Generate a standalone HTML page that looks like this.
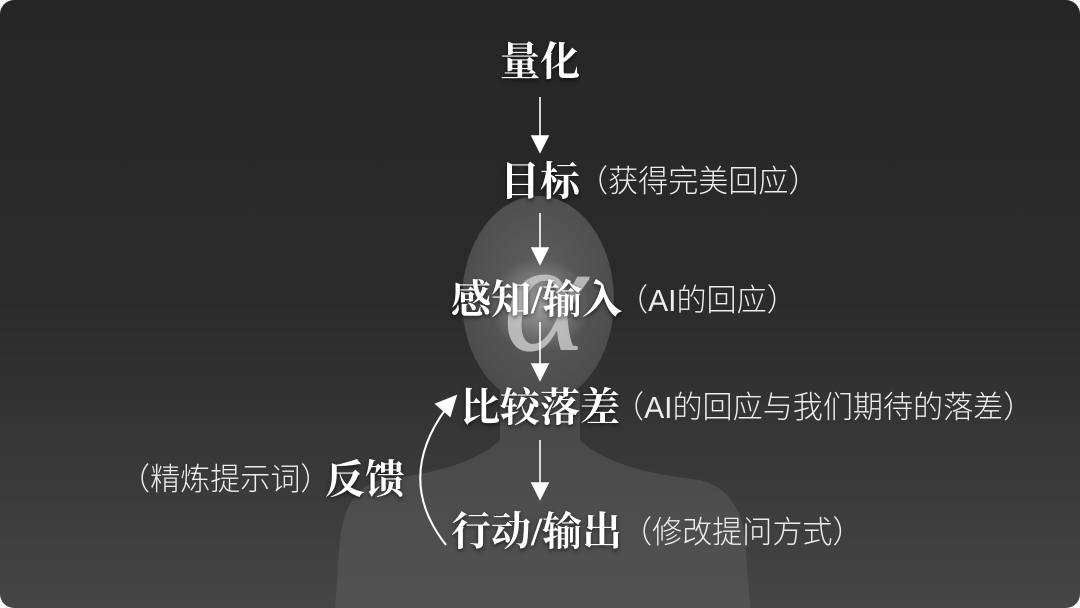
<!DOCTYPE html>
<html><head><meta charset="utf-8"><style>
html,body{margin:0;padding:0;background:#fff}
#c{position:relative;width:1080px;height:608px;overflow:hidden;border-radius:14px;background:linear-gradient(#262626 0%,#2b2b2b 50%,#3a3a3a 80%,#464646 100%)}
.t{position:absolute;font-family:"Liberation Serif","Noto Serif CJK SC",serif;font-weight:bold;font-size:40px;color:#fff;line-height:1;white-space:nowrap;text-shadow:0 2px 4px rgba(0,0,0,.6)}
.l{position:absolute;font-family:"Liberation Sans","Noto Sans CJK SC",sans-serif;font-size:31px;color:#eee;line-height:1;white-space:nowrap;font-weight:300;transform:scaleX(0.97);transform-origin:left}
</style></head><body><div id="c">
<svg width="1080" height="608" style="position:absolute;left:0;top:0">
<defs>
<radialGradient id="hg" cx="50%" cy="45%" r="60%"><stop offset="0" stop-color="#606060"/><stop offset="1" stop-color="#4a4a4a"/></radialGradient>
<linearGradient id="bg2" x1="0" y1="0" x2="0" y2="1"><stop offset="0" stop-color="#484848"/><stop offset="1" stop-color="#525252"/></linearGradient>
<radialGradient id="glow" cx="50%" cy="50%" r="50%"><stop offset="0" stop-color="#fff" stop-opacity=".4"/><stop offset="1" stop-color="#fff" stop-opacity="0"/></radialGradient>
</defs>
<path d="M500,390 L500,440 Q470,470 380,480 Q345,490 340,540 L335,608 L750,608 L745,540 Q740,490 700,480 Q610,470 580,440 L580,390 Z" fill="url(#bg2)"/>
<ellipse cx="538" cy="300" rx="76" ry="104" fill="url(#hg)"/>
<ellipse cx="540" cy="305" rx="50" ry="48" fill="url(#glow)"/>
<text x="545" y="350" text-anchor="middle" font-family="Liberation Serif,serif" font-style="italic" font-size="160" fill="#c8c8c8" opacity=".85">α</text>
<g stroke="#fff" stroke-width="1.6" fill="#fff">
<line x1="540" y1="97" x2="540" y2="138"/><polygon points="532,136 548,136 540,152"/>
<line x1="540" y1="213" x2="540" y2="250"/><polygon points="532,248 548,248 540,264"/>
<line x1="540" y1="322" x2="540" y2="366"/><polygon points="532,364 548,364 540,380"/>
<line x1="540" y1="440" x2="540" y2="485"/><polygon points="532,483 548,483 540,499"/>
<path d="M446,545 Q395,480 445,410" fill="none" stroke-width="2"/>
<polygon points="436,404 456,396 450,416"/>
</g>
</svg>
<div class="t" style="left:500px;top:42px">量化</div>
<div class="t" style="left:500px;top:162px">目标</div>
<div class="l" style="left:578px;top:166px">（获得完美回应）</div>
<div class="t" style="left:451px;top:280px">感知/输入</div>
<div class="l" style="left:618px;top:285px">（AI的回应）</div>
<div class="t" style="left:460px;top:388px">比较落差</div>
<div class="l" style="left:614px;top:392px">（AI的回应与我们期待的落差）</div>
<div class="t" style="left:325px;top:460px">反馈</div>
<div class="l" style="left:120px;top:464px">（精炼提示词）</div>
<div class="t" style="left:451px;top:512px">行动/输出</div>
<div class="l" style="left:622px;top:517px">（修改提问方式）</div>
</div></body></html>
